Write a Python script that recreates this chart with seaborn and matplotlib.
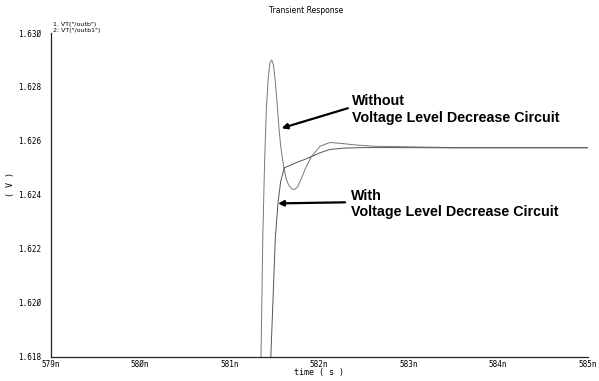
import numpy as np
import pandas as pd
import matplotlib
matplotlib.use("Agg")
import matplotlib.pyplot as plt
from matplotlib.ticker import AutoMinorLocator
import seaborn as sns

# curve without the voltage level decrease circuit (time in ns, volts)
t_without = [579.0, 581.30, 581.35, 581.37, 581.39, 581.41, 581.43, 581.45, 581.47,
             581.49, 581.51, 581.53, 581.55, 581.57, 581.60, 581.63, 581.66, 581.70,
             581.73, 581.76, 581.80, 581.85, 581.91, 582.01, 582.12, 582.26, 582.40,
             582.60, 583.00, 583.50, 584.00, 585.00]
v_without = [1.6176, 1.6176, 1.6180, 1.6224, 1.6252, 1.6272, 1.6283, 1.6289, 1.6290,
             1.6288, 1.6282, 1.6274, 1.6265, 1.6258, 1.6251, 1.6246, 1.62435, 1.6242,
             1.62421, 1.6243, 1.6246, 1.6250, 1.6254, 1.6258, 1.62594, 1.6259, 1.62585,
             1.6258, 1.62578, 1.62575, 1.62575, 1.62575]

# curve with the voltage level decrease circuit
t_with = [579.0, 581.44, 581.46, 581.51, 581.54, 581.57, 581.61, 581.68, 581.75,
          581.83, 581.93, 582.01, 582.12, 582.27, 582.49, 582.80, 583.50, 584.20, 585.00]
v_with = [1.6176, 1.6176, 1.6180, 1.6224, 1.6237, 1.6245, 1.6250, 1.6251, 1.6252,
          1.6253, 1.62544, 1.62556, 1.62568, 1.62573, 1.62575, 1.62575, 1.62574, 1.62574, 1.62574]

x_ticks = [579, 580, 581, 582, 583, 584, 585]
x_labels = ["579n", "58Øn", "581n", "582n", "583n", "584n", "585n"]
y_ticks = [1.618, 1.620, 1.622, 1.624, 1.626, 1.628, 1.630]
y_labels = ["1.618", "1.62Ø", "1.622", "1.624", "1.626", "1.628", "1.63Ø"]

df = pd.concat([
    pd.DataFrame({"t": t_without, "v": v_without, "sig": "outb"}),
    pd.DataFrame({"t": t_with, "v": v_with, "sig": "outb1"}),
])

sns.set_style("white")
plt.rcParams["text.color"] = "black"
plt.rcParams["xtick.color"] = "black"
plt.rcParams["ytick.color"] = "black"
fig = plt.figure(figsize=(5.99, 3.81), dpi=100)
ax = fig.add_axes([0.0846, 0.0643, 0.8965, 0.849])

sns.lineplot(data=df, x="t", y="v", hue="sig", palette=["#777777", "#555555"],
             estimator=None, sort=False, linewidth=0.7, legend=False, ax=ax)

ax.set_xlim(579, 585)
ax.set_ylim(1.618, 1.630)
ax.set_xticks(x_ticks)
ax.set_xticklabels(x_labels, fontsize=5.5, family="DejaVu Sans Mono")
ax.set_yticks(y_ticks)
ax.set_yticklabels(y_labels, fontsize=5.5, family="DejaVu Sans Mono")
ax.xaxis.set_minor_locator(AutoMinorLocator(10))
ax.yaxis.set_minor_locator(AutoMinorLocator(10))
ax.tick_params(which="both", direction="in", color="#222222", width=0.6)
ax.tick_params(which="major", length=4)
ax.tick_params(axis="y", which="major", pad=7)
ax.tick_params(axis="x", which="major", pad=2.5)
ax.tick_params(which="minor", length=2)
for s in ["top", "right"]:
    ax.spines[s].set_visible(False)
for s in ["left", "bottom"]:
    ax.spines[s].set_color("#222222")
    ax.spines[s].set_linewidth(0.9)

ax.set_xlabel("time ( s )", fontsize=6, family="DejaVu Sans Mono", labelpad=-1, color="black")
ax.set_ylabel("")
fig.text(0.017, 0.515, "( V )", fontsize=6, family="DejaVu Sans Mono", rotation=90,
         ha="center", va="center")
fig.text(0.511, 0.985, "Transient Response", fontsize=5.5, ha="center", va="top",
         family="DejaVu Sans")
fig.text(0.088, 0.937, '1. VT("/outb")', fontsize=4.5, ha="left", va="center", family="DejaVu Sans")
fig.text(0.088, 0.921, '2: VT("/outb1")', fontsize=4.5, ha="left", va="center", family="DejaVu Sans")

bold = dict(fontsize=10.3, fontweight="bold", family="Liberation Sans", ha="left", va="center",
            linespacing=1.2, color="black")
ax.text(582.37, 1.62716, "Without\nVoltage Level Decrease Circuit", **bold)
ax.text(582.35, 1.62365, "With\nVoltage Level Decrease Circuit", **bold)
arrow = dict(arrowstyle="-|>", color="black", lw=1.6, mutation_scale=8, shrinkA=0, shrinkB=0)
ax.annotate("", xy=(581.58, 1.62647), xytext=(582.32, 1.62721), arrowprops=arrow)
ax.annotate("", xy=(581.54, 1.62368), xytext=(582.29, 1.62372), arrowprops=arrow)

fig.savefig("out.png", dpi=100)
